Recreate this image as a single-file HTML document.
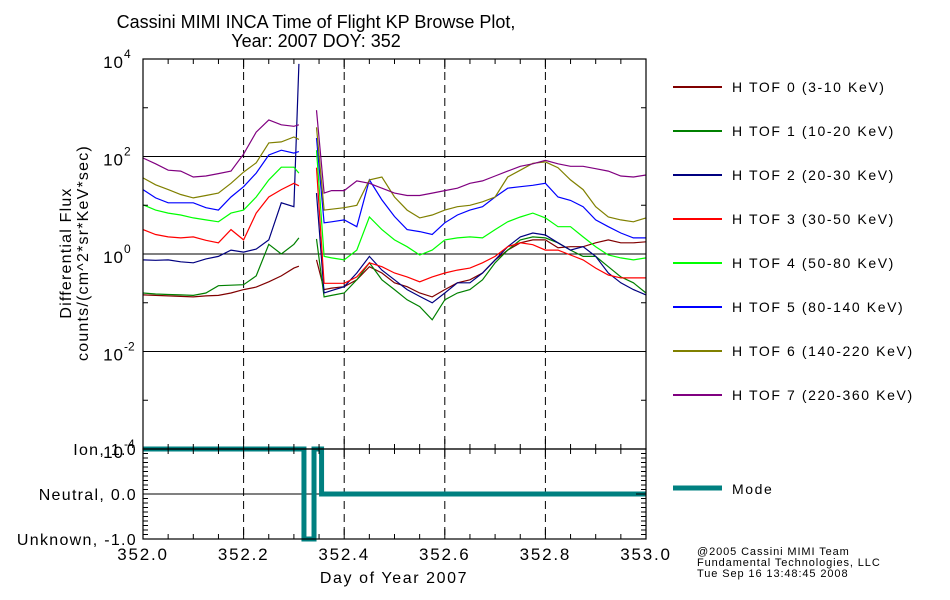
<!DOCTYPE html>
<html><head><meta charset="utf-8"><style>
body{margin:0;background:#fff;}
svg{display:block;font-family:"Liberation Sans",sans-serif;}
</style></head><body>
<svg id="c" width="950" height="600" viewBox="0 0 950 600" xmlns="http://www.w3.org/2000/svg">
<rect width="950" height="600" fill="#fff"/>
<text x="316" y="28" font-size="18" text-anchor="middle">Cassini MIMI INCA Time of Flight KP Browse Plot,</text>
<text x="316" y="47" font-size="18" text-anchor="middle">Year: 2007 DOY: 352</text>
<g id="grid"></g><g id="series"></g><g id="axes"></g><g id="legend"></g>
<text x="394" y="583" font-size="16" letter-spacing="1.6" text-anchor="middle">Day of Year 2007</text>
<text transform="translate(71,253) rotate(-90)" font-size="16" letter-spacing="1.2" text-anchor="middle">Differential Flux</text>
<text transform="translate(88,253) rotate(-90)" font-size="16" letter-spacing="1.2" text-anchor="middle">counts/(cm^2*sr*KeV*sec)</text>
<g font-size="11" letter-spacing="0.9">
<text x="697" y="555">@2005 Cassini MIMI Team</text>
<text x="697" y="566">Fundamental Technologies, LLC</text>
<text x="697" y="577">Tue Sep 16 13:48:45 2008</text>
</g>
</svg>
<script>
const T=[0,.025,.05,.075,.1,.125,.15,.175,.2,.225,.25,.275,.3,.31,.325,.345,.36,.375,.4,.425,.45,.475,.5,.525,.55,.575,.6,.625,.65,.675,.7,.725,.75,.775,.8,.825,.85,.875,.9,.925,.95,.975,1.0];
const tof0=[-0.84,-0.85,-0.86,-0.87,-0.88,-0.86,-0.85,-0.8,-0.73,-0.68,-0.57,-0.45,-0.29,-0.25,null,-0.12,-0.73,-0.7,-0.67,-0.53,-0.26,-0.39,-0.59,-0.67,-0.8,-0.88,-0.73,-0.59,-0.53,-0.39,-0.12,0.08,0.23,0.29,0.29,0.13,0.15,0.15,0.23,0.29,0.23,0.23,0.25];
const tof1=[-0.8,-0.82,-0.83,-0.84,-0.85,-0.8,-0.65,-0.64,-0.63,-0.45,0.2,0.0,0.2,0.33,null,0.31,-0.88,-0.85,-0.8,-0.53,-0.18,-0.53,-0.73,-0.94,-1.08,-1.35,-0.94,-0.8,-0.73,-0.53,-0.18,0.08,0.29,0.35,0.33,0.23,0.08,-0.05,-0.05,-0.26,-0.47,-0.59,-0.8];
const tof2=[-0.12,-0.13,-0.12,-0.16,-0.18,-0.1,-0.05,0.08,0.04,0.1,0.29,1.05,0.97,3.9,null,1.25,-0.8,-0.75,-0.67,-0.39,-0.05,-0.33,-0.53,-0.73,-0.87,-1.0,-0.8,-0.59,-0.59,-0.39,-0.12,0.15,0.35,0.43,0.39,0.23,0.08,0.15,-0.05,-0.39,-0.59,-0.73,-0.84];
const tof3=[0.5,0.4,0.35,0.33,0.35,0.28,0.23,0.5,0.29,0.84,1.17,1.32,1.45,1.4,null,1.77,-0.6,-0.6,-0.6,-0.47,-0.18,-0.26,-0.39,-0.47,-0.57,-0.47,-0.39,-0.33,-0.29,-0.18,-0.05,0.15,0.23,0.19,0.08,0.08,-0.02,-0.12,-0.29,-0.43,-0.49,-0.49,-0.49];
const tof4=[1.01,0.9,0.84,0.8,0.74,0.7,0.66,0.84,0.9,1.17,1.52,1.78,1.78,1.66,null,2.13,-0.05,-0.08,-0.12,0.08,0.76,0.5,0.29,0.15,-0.02,0.08,0.29,0.33,0.35,0.33,0.5,0.66,0.76,0.84,0.74,0.56,0.56,0.35,0.15,-0.02,-0.08,-0.12,-0.08];
const tof5=[1.32,1.15,1.05,1.05,1.05,0.95,0.9,1.17,1.38,1.66,2.03,2.13,2.07,2.1,null,2.38,0.64,0.66,0.7,0.56,1.52,1.11,0.77,0.5,0.46,0.4,0.64,0.8,0.9,0.97,1.17,1.35,1.38,1.41,1.45,1.17,1.1,0.97,0.7,0.56,0.43,0.33,0.33];
const tof6=[1.56,1.42,1.32,1.22,1.15,1.2,1.25,1.45,1.68,1.87,2.28,2.3,2.4,2.35,null,2.6,0.9,0.92,0.95,1.0,1.52,1.58,1.17,0.9,0.74,0.8,0.9,0.97,1.0,1.07,1.17,1.58,1.72,1.86,1.89,1.77,1.52,1.32,0.97,0.76,0.7,0.66,0.74];
const tof7=[1.97,1.85,1.72,1.7,1.58,1.6,1.65,1.7,2.05,2.5,2.75,2.65,2.62,2.65,null,2.95,1.25,1.3,1.3,1.5,1.45,1.35,1.25,1.2,1.2,1.25,1.3,1.35,1.45,1.5,1.6,1.7,1.8,1.85,1.92,1.85,1.8,1.8,1.75,1.7,1.6,1.58,1.62];
const modeT=[0,0.32,0.34,0.355,1.0];
const modeV=[1,-1,1,0,0];
const xTicks=["352.0","352.2","352.4","352.6","352.8","353.0"];
const yExp=["4","2","0","-2","-4"];
const modeLabels=["Ion, 1.0","Neutral, 0.0","Unknown, -1.0"];
const names=["H TOF 0 (3-10 KeV)","H TOF 1 (10-20 KeV)","H TOF 2 (20-30 KeV)","H TOF 3 (30-50 KeV)","H TOF 4 (50-80 KeV)","H TOF 5 (80-140 KeV)","H TOF 6 (140-220 KeV)","H TOF 7 (220-360 KeV)"];
const colors=["#800000","#008000","#000080","#ff0000","#00ff00","#0000ff","#808000","#800080"];
const ns="http://www.w3.org/2000/svg";
const X0=143,X1=646,YT=59,YB=449,MB=539;
const x=t=>X0+(X1-X0)*t;
const y=l=>YT+(4-l)*(YB-YT)/8;
const ym=v=>494-45*v;
function mk(tag,attrs,parent){const e=document.createElementNS(ns,tag);for(const k in attrs)e.setAttribute(k,attrs[k]);parent.appendChild(e);return e;}
const G=document.getElementById('grid'),S=document.getElementById('series'),A=document.getElementById('axes'),L=document.getElementById('legend');
[2,0,-2].forEach(l=>{const e=mk('line',{x1:X0,x2:X1,y1:y(l),y2:y(l),stroke:'#000','stroke-width':1},G);

});
[0.2,0.4,0.6,0.8].forEach(t=>{const e=mk('line',{x1:x(t),x2:x(t),y1:YT,y2:MB,stroke:'#000','stroke-width':1,'stroke-dasharray':'8,5'},G);

});
{const e=mk('line',{x1:X0,x2:X1,y1:ym(0),y2:ym(0),stroke:'#000'},G);

}
const all=[tof0,tof1,tof2,tof3,tof4,tof5,tof6,tof7];
all.forEach((vals,si)=>{let d='',pen=false;vals.forEach((v,i)=>{if(v===null){pen=false;return;}d+=(pen?'L':'M')+x(T[i]).toFixed(1)+','+y(v).toFixed(1);pen=true;});
const p=mk('path',{d:d,fill:'none',stroke:colors[si],'stroke-width':1.2},S);

});
{let d='M'+x(modeT[0])+','+ym(modeV[0]);for(let i=1;i<modeT.length;i++){d+='L'+x(modeT[i])+','+ym(modeV[i-1])+'L'+x(modeT[i])+','+ym(modeV[i]);}
const p=mk('path',{d:d,fill:'none',stroke:'#008080','stroke-width':5},S);

}
[[YT,YB],[YB,MB]].forEach(r=>{const e=mk('rect',{x:X0,y:r[0],width:X1-X0,height:r[1]-r[0],fill:'none',stroke:'#000','stroke-width':1.2},A);

});
let td='';
for(let k=0;k<=20;k++){const xx=x(k*0.05),len=k%4===0?10:5;td+=`M${xx},${YT}v${len}M${xx},${YB}v-${len}M${xx},${YB}v${len}M${xx},${MB}v-${len}`;}
for(let l=-4;l<=4;l++){const len=l%2===0?10:5;td+=`M${X0},${y(l)}h${len}M${X1},${y(l)}h-${len}`;}
for(let k=-10;k<=10;k++){const v=k/10,len=k%10===0?10:5;td+=`M${X0},${ym(v)}h${len}M${X1},${ym(v)}h-${len}`;}
{const e=mk('path',{d:td,stroke:'#000','stroke-width':1,fill:'none'},A);

}
xTicks.forEach((s,i)=>{const e=mk('text',{x:x(i*0.2),y:560,'font-size':17,'letter-spacing':1.8,'text-anchor':'middle'},A);e.textContent=s;

});
yExp.forEach((s,i)=>{const l=4-2*i;const e=mk('text',{x:124,y:y(l)+9,'font-size':17,'letter-spacing':1,'text-anchor':'end'},A);e.textContent='10';


const s2=mk('text',{x:124,y:y(l)-1,'font-size':12,'text-anchor':'start'},A);s2.textContent=s;

});
modeLabels.forEach((s,i)=>{const e=mk('text',{x:137,y:ym(1-i)+6,'font-size':16,'letter-spacing':1.3,'text-anchor':'end'},A);e.textContent=s;

});
names.forEach((n,i)=>{const yy=87+44*i;const ln=mk('line',{x1:673,x2:722,y1:yy,y2:yy,stroke:colors[i],'stroke-width':2},L);


const t=mk('text',{x:732,y:yy+5,'font-size':14,'letter-spacing':1.6},L);t.textContent=n;

});
{const ln=mk('line',{x1:673,x2:722,y1:488,y2:488,stroke:'#008080','stroke-width':5},L);


const t=mk('text',{x:732,y:494,'font-size':14,'letter-spacing':1.6},L);t.textContent='Mode';

}
</script>
</body></html>
